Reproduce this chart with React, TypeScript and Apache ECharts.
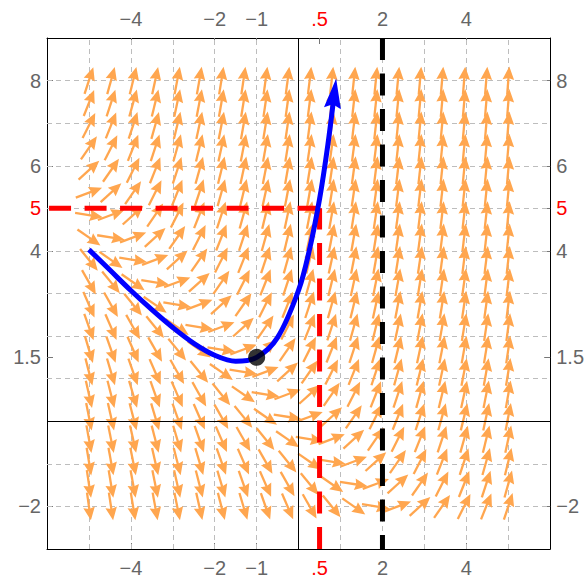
import React, { useEffect, useRef } from "react";
import * as echarts from "echarts";

// Direction field of the ODE  y' = x + y  (read from the arrows: horizontal along x + y = 0)
const ode = (x: number, y: number) => x + y;

// Sample points of the direction field (20 x 20)
const fieldXs = [-5, -4.474, -3.947, -3.421, -2.895, -2.368, -1.842, -1.316, -0.789, -0.263,
  0.263, 0.789, 1.316, 1.842, 2.368, 2.895, 3.421, 3.947, 4.474, 5];
const fieldYs = [-2, -1.474, -0.947, -0.421, 0.105, 0.632, 1.158, 1.684, 2.211, 2.737,
  3.263, 3.789, 4.316, 4.842, 5.368, 5.895, 6.421, 6.947, 7.474, 8];

// Solution curve through (-1, 1.5)
const solX = [-5, -4.5, -4, -3.5, -3, -2.5, -2, -1.5, -1, -0.5, 0, 0.25, 0.5, 0.7, 0.86];
const solY = [4.03, 3.55, 3.07, 2.62, 2.2, 1.83, 1.55, 1.41, 1.5, 1.97, 3.08, 3.99, 5.22, 6.51, 7.77];

const initialPoint = [-1, 1.5];
const estimateX = 0.5;
const estimateY = 5;
const boundaryX = 2;

// Tick labels
const xTickValues = [-4, -2, -1, 0.5, 2, 4];
const xTickLabels = ["\u22124", "\u22122", "\u22121", ".5", "2", "4"];
const yTickValues = [8, 6, 5, 4, 1.5, -2];
const yTickLabels = ["8", "6", "5", "4", "1.5", "\u22122"];
const redTicks = [0.5, 5];

// Grid lines
const gridXs = [-5, -4, -3, -2, -1, 1, 2, 3, 4, 5];
const gridYs = [-2, -1, 1, 2, 3, 4, 5, 6, 7, 8];

const X_MIN = -6, X_MAX = 6, Y_MIN = -3, Y_MAX = 9;

const FONT = '"Liberation Sans", Arial, Helvetica, sans-serif';
const LABEL_GRAY = "#666666";
const ARROW_COLOR = "#FFA64F";

function makeFormatter(values: number[], labels: string[]) {
  return (v: number) => {
    const i = values.findIndex((t) => Math.abs(t - v) < 1e-6);
    if (i < 0) return "";
    const isRed = redTicks.some((r) => Math.abs(r - v) < 1e-6);
    return isRed ? `{r|${labels[i]}}` : labels[i];
  };
}

function xAxisCfg(position: "top" | "bottom") {
  return {
    type: "value",
    position,
    min: X_MIN,
    max: X_MAX,
    axisLine: { show: true, onZero: false, lineStyle: { color: "#000", width: 1 } },
    axisTick: {
      show: true,
      inside: true,
      length: 6,
      customValues: xTickValues,
      lineStyle: { color: "#777", width: 1 },
    },
    axisLabel: {
      show: true,
      customValues: xTickValues,
      formatter: makeFormatter(xTickValues, xTickLabels),
      margin: 9,
      color: LABEL_GRAY,
      fontSize: 20,
      fontFamily: FONT,
      rich: { r: { color: "#ff0000", fontSize: 20, fontFamily: FONT } },
    },
    splitLine: { show: false },
  };
}

function yAxisCfg(position: "left" | "right") {
  return {
    type: "value",
    position,
    min: Y_MIN,
    max: Y_MAX,
    axisLine: { show: true, onZero: false, lineStyle: { color: "#000", width: 1 } },
    axisTick: {
      show: true,
      inside: true,
      length: 6,
      customValues: yTickValues,
      lineStyle: { color: "#777", width: 1 },
    },
    axisLabel: {
      show: true,
      customValues: yTickValues,
      formatter: makeFormatter(yTickValues, yTickLabels),
      margin: 6,
      color: LABEL_GRAY,
      fontSize: 20,
      fontFamily: FONT,
      rich: { r: { color: "#ff0000", fontSize: 20, fontFamily: FONT } },
    },
    splitLine: { show: false },
  };
}

export default function App() {
  const ref = useRef<HTMLDivElement>(null);

  useEffect(() => {
    if (!ref.current) return;
    const chart = echarts.init(ref.current, undefined, { renderer: "svg" });

    const fieldData: number[][] = [];
    for (const x of fieldXs) {
      for (const y of fieldYs) {
        fieldData.push([x, y, ode(x, y)]);
      }
    }

    const solData = solX.map((x, i) => [x, solY[i]]);
    const n = solData.length;
    const headData = [[solData[n - 2][0], solData[n - 2][1], solData[n - 1][0], solData[n - 1][1]]];

    // dashed guide segments: [x1, y1, x2, y2, colorIndex]
    const guideColors = ["#ff0000", "#000000"];
    const guideData = [
      [estimateX, Y_MIN, estimateX, estimateY, 0],
      [estimateX, estimateY, X_MIN, estimateY, 0],
      [boundaryX, Y_MAX, boundaryX, Y_MIN, 1],
    ];

    const ARROW_LEN = 28;
    const HEAD_LEN = 13;
    const HEAD_HALF = 5.8;

    const option: any = {
      animation: false,
      grid: { left: 47, right: 36, top: 38, bottom: 29, show: false, containLabel: false },
      xAxis: [xAxisCfg("bottom"), xAxisCfg("top")],
      yAxis: [yAxisCfg("left"), yAxisCfg("right")],
      series: [
        {
          // light dashed grid lines
          type: "line",
          data: [],
          z: 1,
          silent: true,
          markLine: {
            z: 1,
            silent: true,
            symbol: "none",
            label: { show: false },
            lineStyle: { type: [5, 4], color: "#bdbdbd", width: 1 },
            emphasis: { disabled: true },
            data: [
              ...gridXs.map((v) => ({ xAxis: v })),
              ...gridYs.map((v) => ({ yAxis: v })),
            ],
          },
        },
        {
          // direction field arrows
          type: "custom",
          z: 2,
          silent: true,
          data: fieldData,
          renderItem: (params: any, api: any) => {
            const x = api.value(0);
            const y = api.value(1);
            const s = api.value(2);
            const c = api.coord([x, y]);
            const sz = api.size([1, 1]);
            let dx = sz[0];
            let dy = -s * sz[1];
            const len = Math.hypot(dx, dy);
            dx /= len;
            dy /= len;
            const tail = [c[0] - (dx * ARROW_LEN) / 2, c[1] - (dy * ARROW_LEN) / 2];
            const tip = [c[0] + (dx * ARROW_LEN) / 2, c[1] + (dy * ARROW_LEN) / 2];
            const base = [tip[0] - dx * HEAD_LEN, tip[1] - dy * HEAD_LEN];
            const nx = -dy, ny = dx;
            return {
              type: "group",
              children: [
                {
                  type: "line",
                  shape: { x1: tail[0], y1: tail[1], x2: base[0] + dx * 2, y2: base[1] + dy * 2 },
                  style: { stroke: ARROW_COLOR, lineWidth: 2.3 },
                },
                {
                  type: "polygon",
                  shape: {
                    points: [
                      tip,
                      [base[0] + nx * HEAD_HALF, base[1] + ny * HEAD_HALF],
                      [base[0] + dx * 1.5, base[1] + dy * 1.5],
                      [base[0] - nx * HEAD_HALF, base[1] - ny * HEAD_HALF],
                    ],
                  },
                  style: { fill: ARROW_COLOR },
                },
              ],
            };
          },
        },
        {
          // coordinate axes x = 0, y = 0
          type: "line",
          data: [],
          z: 3,
          silent: true,
          markLine: {
            z: 3,
            silent: true,
            symbol: "none",
            label: { show: false },
            lineStyle: { type: "solid", color: "#000", width: 1 },
            emphasis: { disabled: true },
            data: [{ xAxis: 0 }, { yAxis: 0 }],
          },
        },
        {
          // dashed guides: estimate (red) and x = 2 (black)
          type: "custom",
          z: 4,
          silent: true,
          data: guideData,
          renderItem: (params: any, api: any) => {
            const p1 = api.coord([api.value(0), api.value(1)]);
            const p2 = api.coord([api.value(2), api.value(3)]);
            return {
              type: "line",
              shape: { x1: p1[0], y1: p1[1], x2: p2[0], y2: p2[1] },
              style: {
                stroke: guideColors[api.value(4)],
                lineWidth: 5,
                lineDash: [22, 13.5],
                lineCap: "butt",
              },
            };
          },
        },
        {
          // solution curve
          type: "line",
          z: 5,
          silent: true,
          showSymbol: false,
          smooth: 0.35,
          data: solData,
          lineStyle: { color: "#0000ff", width: 5 },
        },
        {
          // arrow head of the solution curve
          type: "custom",
          z: 6,
          silent: true,
          data: headData,
          renderItem: (params: any, api: any) => {
            const p1 = api.coord([api.value(0), api.value(1)]);
            const p2 = api.coord([api.value(2), api.value(3)]);
            let dx = p2[0] - p1[0];
            let dy = p2[1] - p1[1];
            const len = Math.hypot(dx, dy);
            dx /= len;
            dy /= len;
            const tip = [p2[0] + dx * 12, p2[1] + dy * 12];
            const base = [tip[0] - dx * 30, tip[1] - dy * 30];
            const nx = -dy, ny = dx;
            const hw = 8.5;
            return {
              type: "polygon",
              shape: {
                points: [
                  tip,
                  [base[0] + nx * hw, base[1] + ny * hw],
                  [base[0] + dx * 4, base[1] + dy * 4],
                  [base[0] - nx * hw, base[1] - ny * hw],
                ],
              },
              style: { fill: "#0000ff" },
            };
          },
        },
        {
          // initial point
          type: "scatter",
          z: 7,
          silent: true,
          data: [initialPoint],
          symbol: "circle",
          symbolSize: 17,
          itemStyle: { color: "#000" },
        },
      ],
    };

    chart.setOption(option);
    return () => chart.dispose();
  }, []);

  return (
    <div
      ref={ref}
      style={{ position: "fixed", left: 0, top: 0, width: 587, height: 578, background: "#fff" }}
    />
  );
}
